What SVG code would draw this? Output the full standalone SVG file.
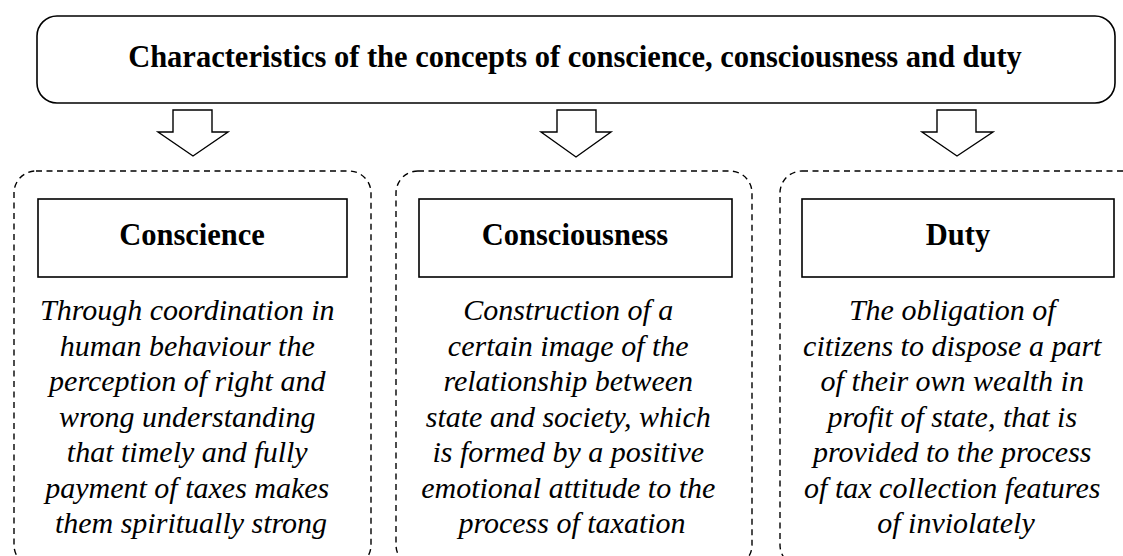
<svg xmlns="http://www.w3.org/2000/svg" width="1123" height="556" viewBox="0 0 1123 556">
<style>
.title{font-family:"Liberation Serif",serif;font-weight:bold;font-size:30.5px;fill:#000}
.head{font-family:"Liberation Serif",serif;font-weight:bold;font-size:30.5px;fill:#000}
.body{font-family:"Liberation Serif",serif;font-style:italic;font-size:30px;fill:#000}
.solid{fill:#fff;stroke:#000;stroke-width:1.6}
.dash{fill:none;stroke:#000;stroke-width:1.4;stroke-dasharray:6 4.5}
.arrow{fill:#fff;stroke:#000;stroke-width:1.4;stroke-linejoin:miter}
</style>
<rect width="1123" height="556" fill="#fff"/>
<g id="title">
<rect class="solid" x="37" y="16" width="1078" height="87" rx="20"/>
<text class="title" x="575" y="67" text-anchor="middle">Characteristics of the concepts of conscience, consciousness and duty</text>
</g>
<g id="connectors">
<path class="arrow" d="M173,110 H212 V132 H228 L193,156 L158,132 H173 Z"/>
<path class="arrow" d="M557,110 H596 V132 H611 L576,157 L541,132 H557 Z"/>
<path class="arrow" d="M937,110 H976 V132 H993 L957,156 L922,132 H937 Z"/>
</g>
<g id="conscience">
<rect class="dash" x="14" y="171" width="357" height="396" rx="22"/>
<rect class="solid" x="38" y="199" width="309" height="78"/>
<text class="head" x="192" y="245" text-anchor="middle">Conscience</text>
<text class="body" text-anchor="middle">
<tspan x="191" y="320">Through coordination in</tspan>
<tspan x="191" y="355.5">human behaviour the</tspan>
<tspan x="191" y="391">perception of right and</tspan>
<tspan x="191" y="426.5">wrong understanding</tspan>
<tspan x="191" y="462">that timely and fully</tspan>
<tspan x="191" y="497.5">payment of taxes makes</tspan>
<tspan x="191" y="533">them spiritually strong</tspan>
</text>
</g>
<g id="consciousness">
<rect class="dash" x="396" y="171" width="356" height="396" rx="22"/>
<rect class="solid" x="419" y="199" width="313" height="78"/>
<text class="head" x="575" y="245" text-anchor="middle">Consciousness</text>
<text class="body" text-anchor="middle">
<tspan x="572" y="320">Construction of a</tspan>
<tspan x="572" y="355.5">certain image of the</tspan>
<tspan x="572" y="391">relationship between</tspan>
<tspan x="572" y="426.5">state and society, which</tspan>
<tspan x="572" y="462">is formed by a positive</tspan>
<tspan x="572" y="497.5">emotional attitude to the</tspan>
<tspan x="572" y="533">process of taxation</tspan>
</text>
</g>
<g id="duty">
<rect class="dash" x="780" y="171" width="370" height="396" rx="22"/>
<rect class="solid" x="802" y="199" width="312" height="78"/>
<text class="head" x="958" y="245" text-anchor="middle">Duty</text>
<text class="body" text-anchor="middle">
<tspan x="956" y="320">The obligation of</tspan>
<tspan x="956" y="355.5">citizens to dispose a part</tspan>
<tspan x="956" y="391">of their own wealth in</tspan>
<tspan x="956" y="426.5">profit of state, that is</tspan>
<tspan x="956" y="462">provided to the process</tspan>
<tspan x="956" y="497.5">of tax collection features</tspan>
<tspan x="956" y="533">of inviolately</tspan>
</text>
</g>
</svg>
